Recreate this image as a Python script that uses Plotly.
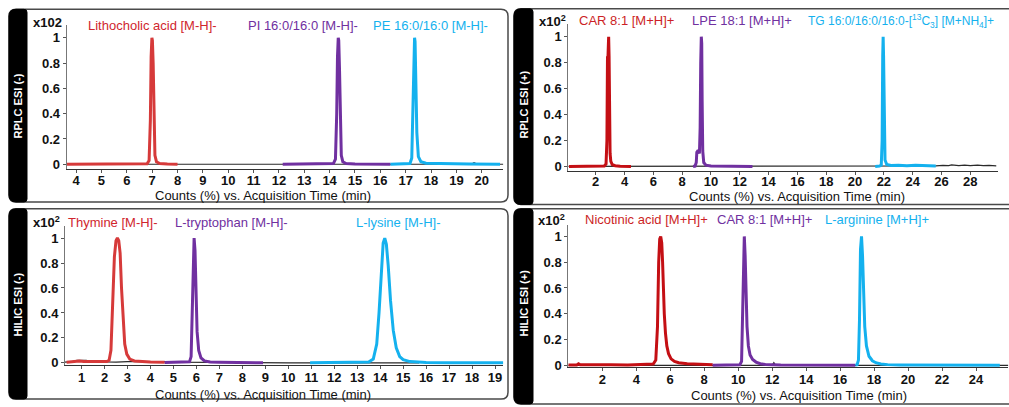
import plotly.graph_objects as go

# ---------------- data ----------------
# RPLC ESI (-)
rn_tic_t = [3.63, 8.0, 12.15, 16.4, 19.6, 19.68, 19.72, 19.8, 20.85]
rn_tic_i = [0.0, 0.001, 0.001, 0.0, 0.0, 0.012, 0.012, 0.0, 0.0]
lithocholic_t = [3.63, 4.5, 5.5, 6.5, 6.8, 6.88, 6.93, 6.96, 6.99, 7.01, 7.04, 7.07, 7.11, 7.17, 7.3, 7.6, 8.0]
lithocholic_i = [0.0, 0.001, 0.0, 0.001, 0.004, 0.03, 0.35, 0.85, 1.0, 0.98, 0.8, 0.35, 0.07, 0.02, 0.006, 0.002, 0.0]
pi_t = [12.15, 13.0, 14.0, 14.15, 14.23, 14.28, 14.31, 14.34, 14.36, 14.39, 14.42, 14.46, 14.52, 14.65, 15.0, 16.4]
pi_i = [0.0, 0.0, 0.002, 0.005, 0.04, 0.4, 0.85, 1.0, 0.98, 0.75, 0.3, 0.07, 0.02, 0.006, 0.002, 0.0]
pe_t = [16.4, 17.0, 17.17, 17.24, 17.29, 17.32, 17.35, 17.37, 17.4, 17.44, 17.5, 17.6, 17.8, 18.5, 19.5, 20.72]
pe_i = [0.0, 0.002, 0.006, 0.05, 0.45, 0.88, 1.0, 0.97, 0.7, 0.25, 0.06, 0.02, 0.008, 0.003, 0.001, 0.0]

# RPLC ESI (+)
rp_tic_t = [0.1, 5.0, 10.0, 15.0, 20.0, 25.6, 26.1, 26.5, 26.7, 27.2, 27.6, 28.0, 28.5, 28.9, 29.3, 29.8]
rp_tic_i = [0.0, 0.0, 0.0, 0.0, 0.0, 0.004, 0.008, 0.006, 0.012, 0.006, 0.01, 0.007, 0.011, 0.006, 0.009, 0.005]
car_rp_t = [0.15, 1.0, 2.0, 2.6, 2.72, 2.78, 2.82, 2.85, 2.87, 2.9, 2.93, 2.96, 3.0, 3.05, 3.15, 3.35, 3.7, 4.45]
car_rp_i = [0.0, 0.001, 0.002, 0.004, 0.02, 0.2, 0.85, 0.83, 0.9, 1.0, 0.85, 0.4, 0.1, 0.04, 0.015, 0.006, 0.002, 0.0]
lpe_t = [8.76, 8.9, 8.98, 9.02, 9.08, 9.14, 9.2, 9.25, 9.29, 9.33, 9.36, 9.39, 9.43, 9.5, 9.65, 10.0, 11.0, 12.88]
lpe_i = [0.0, 0.003, 0.03, 0.11, 0.12, 0.12, 0.1, 0.3, 0.8, 1.0, 0.95, 0.5, 0.12, 0.03, 0.01, 0.004, 0.001, 0.0]
tg_t = [21.4, 21.7, 21.82, 21.88, 21.92, 21.95, 21.98, 22.02, 22.08, 22.2, 22.5, 23.0, 23.6, 24.2, 24.8, 25.3, 25.6]
tg_i = [0.0, 0.003, 0.01, 0.2, 0.85, 1.0, 0.85, 0.3, 0.05, 0.015, 0.008, 0.01, 0.006, 0.009, 0.005, 0.007, 0.004]

# HILIC ESI (-)
hn_tic_t = [0.28, 0.6, 0.8, 1.0, 1.2, 1.5, 1.8, 2.1, 2.5, 3.0, 3.5, 4.0, 4.5, 5.0, 6.0, 8.0, 10.0, 12.0, 14.0, 15.7]
hn_tic_i = [0.005, 0.01, 0.02, 0.018, 0.02, 0.008, 0.012, 0.008, 0.006, 0.01, 0.012, 0.014, 0.01, 0.006, 0.004, 0.002, 0.0, 0.0, 0.0, 0.0]
thymine_t = [0.35, 0.7, 0.9, 1.1, 1.4, 1.7, 1.9, 2.1, 2.2, 2.28, 2.36, 2.43, 2.5, 2.56, 2.62, 2.68, 2.74, 2.8, 2.88, 2.97, 3.1, 3.3, 3.6, 4.0, 4.62]
thymine_i = [0.005, 0.008, 0.015, 0.01, 0.008, 0.012, 0.01, 0.01, 0.02, 0.1, 0.45, 0.85, 0.98, 1.0, 0.98, 0.88, 0.6, 0.35, 0.15, 0.07, 0.03, 0.015, 0.01, 0.006, 0.004]
tryptophan_t = [4.62, 5.0, 5.5, 5.7, 5.77, 5.82, 5.86, 5.9, 5.94, 5.98, 6.03, 6.1, 6.2, 6.35, 6.6, 7.0, 8.0, 8.9]
tryptophan_i = [0.003, 0.005, 0.004, 0.008, 0.05, 0.4, 0.9, 1.0, 0.9, 0.55, 0.25, 0.1, 0.04, 0.015, 0.006, 0.004, 0.002, 0.0]
lysine_t = [10.95, 12.0, 13.0, 13.5, 13.7, 13.85, 13.95, 14.05, 14.13, 14.2, 14.27, 14.35, 14.45, 14.57, 14.7, 14.85, 15.0, 15.3, 16.0, 17.0, 19.36]
lysine_i = [0.0, 0.001, 0.002, 0.006, 0.03, 0.15, 0.4, 0.75, 0.96, 1.0, 0.95, 0.78, 0.5, 0.26, 0.12, 0.05, 0.025, 0.01, 0.003, 0.001, 0.0]

# HILIC ESI (+)
hp_tic_t = [0.0, 8.5, 10.3, 11.0, 12.0, 12.1, 12.2, 13.0, 17.0, 20.0, 25.9]
hp_tic_i = [0.0, 0.0, 0.0, 0.0, 0.0, 0.02, 0.0, 0.0, 0.0, 0.0, 0.0]
nicotinic_t = [0.0, 0.5, 0.6, 0.7, 1.5, 2.0, 2.1, 2.5, 3.5, 4.5, 5.0, 5.15, 5.25, 5.32, 5.38, 5.44, 5.5, 5.55, 5.6, 5.65, 5.72, 5.8, 5.9, 6.05, 6.25, 6.5, 7.0, 7.5, 8.5]
nicotinic_i = [0.002, 0.003, 0.012, 0.004, 0.004, 0.005, 0.01, 0.005, 0.003, 0.005, 0.01, 0.04, 0.3, 0.8, 0.98, 1.0, 0.95, 0.8, 0.58, 0.4, 0.25, 0.15, 0.09, 0.05, 0.03, 0.02, 0.012, 0.008, 0.004]
car_hp_t = [8.5, 9.5, 10.1, 10.2, 10.26, 10.31, 10.36, 10.41, 10.46, 10.52, 10.6, 10.7, 10.85, 11.05, 11.3, 11.6, 12.5, 14.0, 16.9]
car_hp_i = [0.001, 0.002, 0.004, 0.03, 0.4, 0.92, 1.0, 0.85, 0.55, 0.3, 0.15, 0.08, 0.045, 0.025, 0.012, 0.006, 0.002, 0.001, 0.0]
arginine_t = [16.9, 17.0, 17.08, 17.14, 17.2, 17.26, 17.32, 17.38, 17.45, 17.55, 17.7, 17.9, 18.1, 18.4, 18.8, 19.5, 21.0, 23.0, 25.4]
arginine_i = [0.001, 0.004, 0.04, 0.35, 0.9, 1.0, 0.85, 0.55, 0.3, 0.15, 0.07, 0.035, 0.02, 0.01, 0.005, 0.003, 0.002, 0.001, 0.001]

# tick values
rn_xticks = list(range(4, 21))
rp_xticks = list(range(2, 29, 2))
hn_xticks = list(range(1, 20))
hp_xticks = list(range(2, 25, 2))
y_ticks = [0, 0.2, 0.4, 0.6, 0.8, 1]
y_ticklabels = ["0", "0.2", "0.4", "0.6", "0.8", "1"]

# ---------------- styling ----------------
W, H = 1009, 407
FONT = "Liberation Sans, Arial, sans-serif"
RED_A = "#d63a3a"
RED_B = "#c40f14"
PURPLE = "#7030a0"
CYAN = "#14b1ee"
TIC = "#2a2a2a"


def fx(x):
    return x / W


def fy(y):
    return 1 - y / H


fig = go.Figure()

# (axis suffix, x range, y range, x px span, y px span, ticks, tick label standoff)
panels = [
    ("", [3.63, 20.85], [-0.035, 1.1], (66.7, 503.3), (171.2, 25.5), rn_xticks, -3),
    ("2", [0.1, 29.9], [-0.033, 1.1], (568.3, 997.7), (173.3, 24.1), rp_xticks, -4),
    ("3", [0.28, 19.36], [-0.02, 1.1], (65.0, 503.3), (370.8, 229.0), hn_xticks, -3),
    ("4", [0.0, 25.9], [-0.015, 1.09], (568.3, 1008.3), (372.7, 228.2), hp_xticks, -3),
]

series = [
    ("", [(rn_tic_t, rn_tic_i, TIC, 1.2),
          (lithocholic_t, lithocholic_i, RED_A, 3),
          (pi_t, pi_i, PURPLE, 3),
          (pe_t, pe_i, CYAN, 3)]),
    ("2", [(rp_tic_t, rp_tic_i, TIC, 1.2),
           (car_rp_t, car_rp_i, RED_B, 3),
           (lpe_t, lpe_i, PURPLE, 3),
           (tg_t, tg_i, CYAN, 3)]),
    ("3", [(hn_tic_t, hn_tic_i, TIC, 1.2),
           (thymine_t, thymine_i, RED_A, 3),
           (tryptophan_t, tryptophan_i, PURPLE, 3),
           (lysine_t, lysine_i, CYAN, 3)]),
    ("4", [(hp_tic_t, hp_tic_i, TIC, 1.2),
           (nicotinic_t, nicotinic_i, RED_B, 3),
           (car_hp_t, car_hp_i, PURPLE, 3),
           (arginine_t, arginine_i, CYAN, 3)]),
]

for suf, traces in series:
    for t, i, color, width in traces:
        fig.add_trace(go.Scatter(
            x=t, y=i, mode="lines", xaxis="x" + suf, yaxis="y" + suf,
            line=dict(color=color, width=width), showlegend=False, hoverinfo="skip"))

layout = dict(
    width=W, height=H, margin=dict(l=0, r=0, t=0, b=0),
    paper_bgcolor="white", plot_bgcolor="white", showlegend=False,
)

for suf, xr, yr, (xa, xb), (ya, yb), xt, standoff in panels:
    layout["xaxis" + suf] = dict(
        domain=[fx(xa), fx(xb)], range=xr, anchor="y" + suf,
        showgrid=False, zeroline=False, showline=True, linecolor="#333", linewidth=1.2,
        ticks="outside", ticklen=3, tickwidth=1, tickcolor="#555",
        ticklabelstandoff=standoff,
        tickvals=xt, ticktext=[str(v) for v in xt],
        tickfont=dict(family=FONT, size=13, color="#111", weight="bold"),
    )
    layout["yaxis" + suf] = dict(
        domain=[fy(ya), fy(yb)], range=yr, anchor="x" + suf,
        showgrid=False, zeroline=False, showline=True, linecolor="#777", linewidth=1,
        ticks="outside", ticklen=3, tickwidth=1, tickcolor="#555",
        tickvals=y_ticks, ticktext=y_ticklabels,
        tickfont=dict(family=FONT, size=13, color="#111", weight="bold"),
    )

fig.update_layout(**layout)


# ---------------- frames ----------------
def P(x, y):
    return f"{fx(x):.5f},{fy(y):.5f}"


def rrect(x0, y0, x1, y1, rtl, rtr, rbr, rbl):
    return (f"M {P(x0 + rtl, y0)} L {P(x1 - rtr, y0)} Q {P(x1, y0)} {P(x1, y0 + rtr)} "
            f"L {P(x1, y1 - rbr)} Q {P(x1, y1)} {P(x1 - rbr, y1)} "
            f"L {P(x0 + rbl, y1)} Q {P(x0, y1)} {P(x0, y1 - rbl)} "
            f"L {P(x0, y0 + rtl)} Q {P(x0, y0)} {P(x0 + rtl, y0)} Z")


boxes = [
    (9, 9.5, 508, 205, 27),
    (514, 9, 1020, 207.5, 533),
    (9, 212, 508, 405, 27),
    (514, 212, 1020, 410, 533),
]
shapes = []
for x0, y0, x1, y1, bx in boxes:
    shapes.append(dict(type="path", xref="paper", yref="paper", layer="above",
                       path=rrect(x0, y0, x1, y1, 7, 7, 7, 7),
                       line=dict(color="#4a4a4a", width=1.5), fillcolor="rgba(0,0,0,0)"))
    shapes.append(dict(type="path", xref="paper", yref="paper", layer="above",
                       path=rrect(x0, y0, bx, y1, 7, 3, 3, 7),
                       line=dict(color="black", width=1), fillcolor="black"))
fig.update_layout(shapes=shapes)

# ---------------- text ----------------
ann = []


def label(text, x, y, color, size=13, bold=False, anchor="left", angle=0):
    ann.append(dict(text=text, x=fx(x), y=fy(y), xref="paper", yref="paper",
                    xanchor=anchor, yanchor="middle", showarrow=False, textangle=angle,
                    font=dict(family=FONT, size=size, color=color,
                              weight="bold" if bold else "normal")))


# scale markers
label("x102", 31, 22.5, "#111", bold=True)
label("x10<sup>2</sup>", 537, 21, "#111", bold=True)
label("x10<sup>2</sup>", 31, 225, "#111", bold=True)
label("x10<sup>2</sup>", 536, 223, "#111", bold=True)

# compound names
label("Lithocholic acid [M-H]-", 86, 26, "#d0262d")
label("PI 16:0/16:0 [M-H]-", 246, 26, PURPLE)
label("PE 16:0/16:0 [M-H]-", 371, 26, CYAN)
label("CAR 8:1 [M+H]+", 577, 21, "#cc1f26")
label("LPE 18:1 [M+H]+", 690, 21, PURPLE)
label("TG 16:0/16:0/16:0-[<sup>13</sup>C<sub>3</sub>] [M+NH<sub>4</sub>]+", 806, 21, CYAN, size=12)
label("Thymine [M-H]-", 66, 226, "#d0262d")
label("L-tryptophan [M-H]-", 173, 226, PURPLE)
label("L-lysine [M-H]-", 354, 226, CYAN)
label("Nicotinic acid [M+H]+", 583, 223, "#cc1f26")
label("CAR 8:1 [M+H]+", 715, 223, PURPLE)
label("L-arginine [M+H]+", 823, 223, CYAN)

# axis titles
xt_text = "Counts (%) vs. Acquisition Time (min)"
label(xt_text, 263, 198, "#111", anchor="center")
label(xt_text, 797, 199.5, "#111", anchor="center")
label(xt_text, 263, 400, "#111", anchor="center")
label(xt_text, 799, 401, "#111", anchor="center")

# side bars
label("RPLC ESI (-)", 18, 108, "white", size=11, bold=True, anchor="center", angle=-90)
label("RPLC ESI (+)", 524, 106, "white", size=11, bold=True, anchor="center", angle=-90)
label("HILIC ESI (-)", 18, 309, "white", size=11, bold=True, anchor="center", angle=-90)
label("HILIC ESI (+)", 524, 308, "white", size=11, bold=True, anchor="center", angle=-90)

fig.update_layout(annotations=ann)

fig.write_html("out.html")
